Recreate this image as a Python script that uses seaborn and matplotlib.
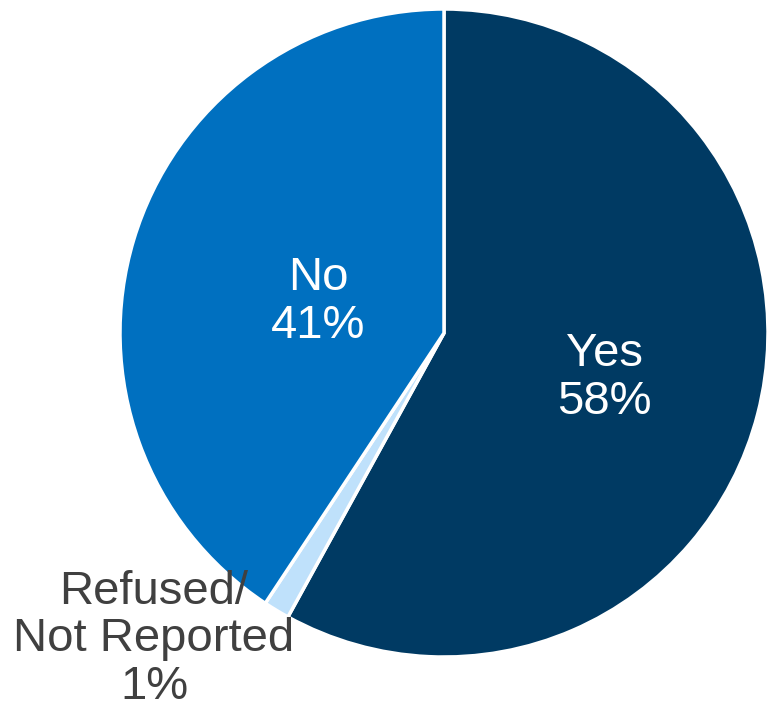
import matplotlib
matplotlib.use("Agg")
import matplotlib.pyplot as plt
import seaborn as sns

# Survey answer shares (percent)
categories = ["Yes", "Refused/\nNot Reported", "No"]
shares = [58, 1.3, 40.7]
share_labels = ["58%", "1%", "41%"]
colors = ["#003A63", "#BFE1FB", "#0070C0"]

sns.set_theme(style="white")
plt.rcParams["font.family"] = ["Liberation Sans", "DejaVu Sans"]

fig = plt.figure(figsize=(7.68, 7.14), dpi=100)
ax = fig.add_axes([0.15625, 0.0798, 0.84375, 0.9076])
ax.pie(shares, colors=colors, startangle=90, counterclock=False, radius=1,
       wedgeprops=dict(edgecolor="white", linewidth=2.5))
ax.set_xlim(-1, 1)
ax.set_ylim(-1, 1)
ax.set_aspect("equal")
ax.axis("off")

# labels
ax.text(0.494, -0.139, f"{categories[0]}\n{share_labels[0]}", color="white",
        fontsize=34, ha="center", va="center", linespacing=1.1)
ax.text(-0.389, 0.096, f"{categories[2]}\n{share_labels[2]}", color="white",
        fontsize=34, ha="center", va="center", linespacing=1.1)
ax.text(-0.895, -0.945, f"{categories[1]}\n{share_labels[1]}", color="#404040",
        fontsize=34, ha="center", va="center", linespacing=1.1,
        clip_on=False)

fig.savefig("out.png", dpi=100)
